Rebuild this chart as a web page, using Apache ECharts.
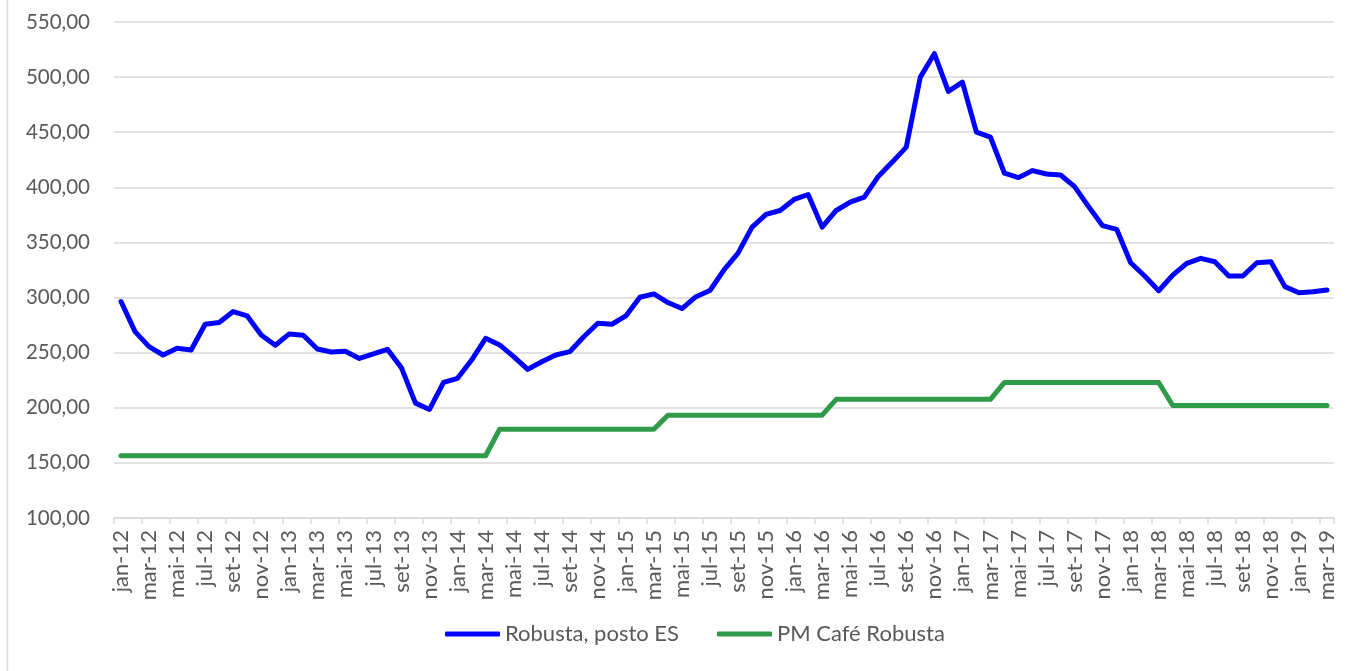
<!DOCTYPE html>
<html>
<head>
<meta charset="utf-8">
<script src="https://cdn.jsdelivr.net/npm/echarts@6/dist/echarts.min.js"></script>
<style>
  html, body { margin: 0; padding: 0; background: #fff; }
  #chart { width: 1364px; height: 671px; }
</style>
</head>
<body>
<div id="chart"></div>
<script>
  var monthNames = ['jan', 'fev', 'mar', 'abr', 'mai', 'jun', 'jul', 'ago', 'set', 'out', 'nov', 'dez'];
  var years = ['12', '13', '14', '15', '16', '17', '18', '19'];

  // jan-12 .. mar-19
  var categories = [];
  years.forEach(function(y) {
    monthNames.forEach(function(m, k) {
      if (y === '19' && k > 2) return;
      categories.push(m + '-' + y);
    });
  });

  var robustaES = [
    296.4, 269.1, 255.5, 247.9, 254.0, 252.4, 275.8, 277.3, 287.3, 283.3, 266.0, 256.7,
    267.0, 265.8, 253.3, 250.6, 251.2, 244.8, 248.8, 253.0, 236.2, 204.2, 198.5, 223.0,
    226.7, 243.3, 263.0, 257.0, 246.4, 234.8, 241.8, 247.9, 250.9, 264.5, 276.7, 275.8,
    283.3, 300.3, 303.3, 295.5, 290.0, 300.8, 306.4, 325.2, 340.3, 363.9, 375.4, 379.0,
    389.0, 393.5, 363.9, 379.0, 386.6, 391.1, 409.9, 422.9, 436.5, 500.0, 521.2, 487.0,
    495.5, 450.1, 445.6, 412.8, 408.8, 415.2, 412.1, 411.2, 400.6, 382.5, 365.2, 361.9,
    331.6, 319.5, 306.2, 320.4, 331.0, 335.6, 332.5, 319.5, 319.5, 331.6, 332.5, 309.9,
    304.4, 305.3, 306.8
  ];

  var pmCafeRobusta = [
    156.5, 156.5, 156.5, 156.5, 156.5, 156.5, 156.5, 156.5, 156.5, 156.5, 156.5, 156.5,
    156.5, 156.5, 156.5, 156.5, 156.5, 156.5, 156.5, 156.5, 156.5, 156.5, 156.5, 156.5,
    156.5, 156.5, 156.5, 180.5, 180.5, 180.5, 180.5, 180.5, 180.5, 180.5, 180.5, 180.5,
    180.5, 180.5, 180.5, 193.3, 193.3, 193.3, 193.3, 193.3, 193.3, 193.3, 193.3, 193.3,
    193.3, 193.3, 193.3, 207.7, 207.7, 207.7, 207.7, 207.7, 207.7, 207.7, 207.7, 207.7,
    207.7, 207.7, 207.7, 223.0, 223.0, 223.0, 223.0, 223.0, 223.0, 223.0, 223.0, 223.0,
    223.0, 223.0, 223.0, 202.0, 202.0, 202.0, 202.0, 202.0, 202.0, 202.0, 202.0, 202.0,
    202.0, 202.0, 202.0
  ];

  var seriesNames = ['Robusta, posto ES', 'PM Café Robusta'];
  var seriesColors = ['#0000ff', '#2f9a48'];

  var ink = '#595959';
  var rule = '#d9d9d9';
  var font = 'Lato, "Open Sans", sans-serif';

  var chart = echarts.init(document.getElementById('chart'), null, { renderer: 'canvas' });
  chart.setOption({
    animation: false,
    textStyle: { fontFamily: font },
    graphic: [{
      type: 'line',
      shape: { x1: 7.5, y1: 0, x2: 7.5, y2: 671 },
      style: { stroke: rule, lineWidth: 1.5 }
    }],
    grid: { left: 114, right: 30, top: 22, bottom: 153 },
    legend: {
      data: seriesNames,
      bottom: 21,
      left: 440,
      icon: 'roundRect',
      itemWidth: 55,
      itemHeight: 5,
      itemGap: 38,
      textStyle: { color: ink, fontSize: 22, fontFamily: font }
    },
    xAxis: {
      type: 'category',
      data: categories,
      boundaryGap: true,
      axisLine: { lineStyle: { color: rule, width: 1.5 } },
      axisTick: { show: true, interval: 1, length: 6, lineStyle: { color: rule, width: 1.5 } },
      axisLabel: { interval: 1, rotate: 90, color: ink, fontSize: 22, margin: 12 },
      splitLine: { show: false }
    },
    yAxis: {
      type: 'value',
      min: 100,
      max: 550,
      interval: 50,
      axisLine: { show: false },
      axisTick: { show: false },
      axisLabel: {
        color: ink,
        fontSize: 20.5,
        margin: 24,
        formatter: function(v) { return v.toFixed(2).replace('.', ','); }
      },
      splitLine: { lineStyle: { color: rule, width: 1.5 } }
    },
    series: [
      {
        name: seriesNames[0],
        type: 'line',
        data: robustaES,
        symbol: 'none',
        lineStyle: { color: seriesColors[0], width: 5, cap: 'round', join: 'round' },
        itemStyle: { color: seriesColors[0] },
        z: 3
      },
      {
        name: seriesNames[1],
        type: 'line',
        data: pmCafeRobusta,
        symbol: 'none',
        lineStyle: { color: seriesColors[1], width: 5, cap: 'round', join: 'round' },
        itemStyle: { color: seriesColors[1] },
        z: 2
      }
    ]
  });
</script>
</body>
</html>
